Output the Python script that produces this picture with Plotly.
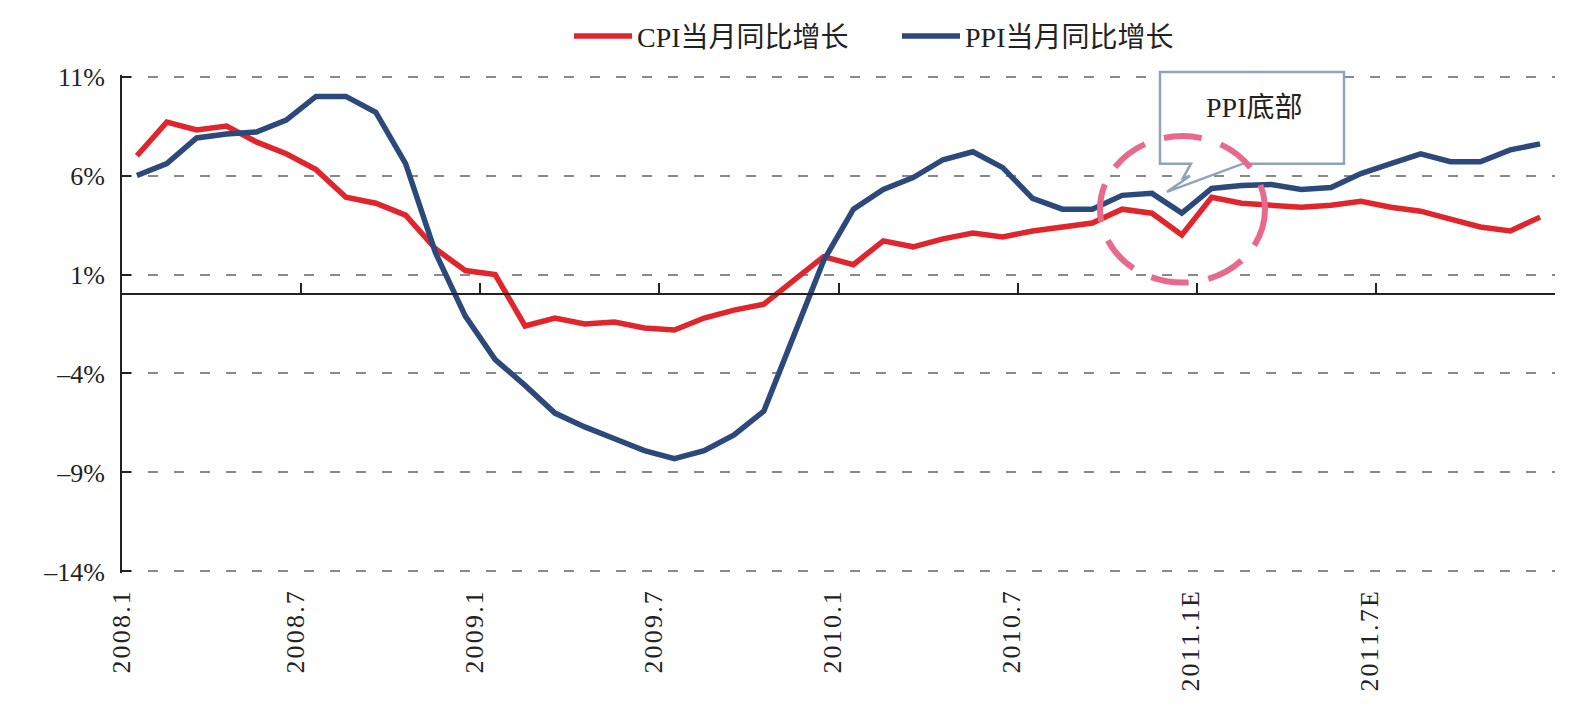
import plotly.graph_objects as go

# ---------------- data ----------------
months = list(range(48))  # 2008.1 ... 2011.12
tick_labels = ["2008.1", "2008.7", "2009.1", "2009.7", "2010.1", "2010.7", "2011.1E", "2011.7E"]

cpi = [7.0, 8.7, 8.3, 8.5, 7.7, 7.1, 6.3, 4.9, 4.6, 4.0, 2.3, 1.2,
       1.0, -1.6, -1.2, -1.5, -1.4, -1.7, -1.8, -1.2, -0.8, -0.5, 0.7, 1.9,
       1.5, 2.7, 2.4, 2.8, 3.1, 2.9, 3.2, 3.4, 3.6, 4.3, 4.1, 3.0,
       4.9, 4.6, 4.5, 4.4, 4.5, 4.7, 4.4, 4.2, 3.8, 3.4, 3.2, 3.9]

ppi = [6.0, 6.6, 7.9, 8.1, 8.2, 8.8, 10.0, 10.0, 9.2, 6.6, 2.1, -1.1,
       -3.3, -4.6, -6.0, -6.7, -7.3, -7.9, -8.3, -7.9, -7.1, -5.9, -2.1, 1.7,
       4.3, 5.3, 5.9, 6.8, 7.2, 6.4, 4.85, 4.3, 4.3, 5.0, 5.1, 4.1,
       5.35, 5.5, 5.55, 5.3, 5.4, 6.1, 6.6, 7.1, 6.7, 6.7, 7.3, 7.6]

y_ticks = [11, 6, 1, -4, -9, -14]
y_ticktext = ["11%", "6%", "1%", "–4%", "–9%", "–14%"]

names = ["CPI当月同比增长", "PPI当月同比增长"]
callout_text = "PPI底部"

# ---------------- layout geometry ----------------
W, H = 1586, 723
EPS = 0.08                      # tiny range padding so edge gridlines are drawn
ymin, ymax = -14 - EPS, 11 + EPS
PER = 19.86                     # px per 1%
L, R = 122, 1555
T = 75.3 - EPS * PER
B = 571.8 + EPS * PER
RED = "#E1252D"
BLUE = "#2B4A7B"
PINK = "#E8698B"
FONT = "Liberation Serif, Noto Sans CJK SC, serif"


def px(x):
    return (x - L) / (R - L)


def py(y):
    return (B - y) / (B - T)


boundaries = [m - 0.5 for m in months[::6]]
label_pos = [b if i == 0 else b - 0.2 for i, b in enumerate(boundaries)]
spaced_labels = ["\u200a".join(s) for s in tick_labels]

fig = go.Figure()
fig.add_trace(go.Scatter(x=months, y=cpi, mode="lines", name=names[0],
                         line=dict(color=RED, width=5.5), xaxis="x", yaxis="y"))
fig.add_trace(go.Scatter(x=months, y=ppi, mode="lines", name=names[1],
                         line=dict(color=BLUE, width=5.5), xaxis="x2", yaxis="y"))

fig.update_layout(
    width=W, height=H, autosize=False,
    margin=dict(l=L, r=W - R, t=T, b=H - B, pad=0),
    paper_bgcolor="white", plot_bgcolor="white",
    font=dict(family=FONT, color="#222", size=22),
    showlegend=True,
    legend=dict(orientation="h", x=px(897), xanchor="center", y=py(36), yanchor="middle",
                font=dict(size=28, family=FONT, color="#222"), itemwidth=58,
                entrywidth=255, entrywidthmode="pixels",
                bgcolor="rgba(0,0,0,0)", tracegroupgap=0),
    xaxis=dict(range=[-0.5, 47.5], showline=False, showgrid=False, zeroline=False,
               tickmode="array", tickvals=label_pos, ticktext=spaced_labels,
               tickangle=-90, ticks="", ticklabelstandoff=12,
               tickfont=dict(size=26, family=FONT, color="#222")),
    xaxis2=dict(range=[-0.5, 47.5], overlaying="x", anchor="free",
                position=(0 - ymin) / (ymax - ymin),
                showline=True, linecolor="#222", linewidth=2,
                showgrid=False, zeroline=False,
                tickmode="array", tickvals=boundaries + [47.5],
                ticks="inside", ticklen=10, tickwidth=2, tickcolor="#222",
                showticklabels=False),
    yaxis=dict(range=[ymin, ymax], showline=True, linecolor="#222", linewidth=2,
               zeroline=False, showgrid=True, gridcolor="#8a8a8a", gridwidth=1.5,
               griddash="10px,16px",
               tickmode="array", tickvals=y_ticks, ticktext=y_ticktext,
               ticks="inside", ticklen=9, tickwidth=2, tickcolor="#222",
               ticklabelstandoff=10,
               tickfont=dict(size=26, family=FONT, color="#222")),
)

# callout box with tail
pts = [(1160, 70.7), (1344, 70.7), (1344, 162.7), (1243, 162.7), (1167, 191),
       (1190, 175), (1183, 177), (1191, 162.7), (1160, 162.7)]
path = "M " + " L ".join(f"{px(x):.5f},{py(y):.5f}" for x, y in pts) + " Z"
fig.add_shape(type="path", xref="paper", yref="paper", path=path,
              fillcolor="white", line=dict(color="#8FA4B5", width=2.5), layer="above")

fig.add_shape(type="circle", xref="paper", yref="paper",
              x0=px(1100), x1=px(1265), y0=py(282), y1=py(135),
              line=dict(color=PINK, width=6, dash="38px,20px"), layer="above")

fig.add_annotation(x=px(1254), y=py(106), xref="paper", yref="paper",
                   xanchor="center", yanchor="middle",
                   text=callout_text, showarrow=False,
                   font=dict(size=28, family=FONT, color="#222"))

fig.write_html("out.html")
